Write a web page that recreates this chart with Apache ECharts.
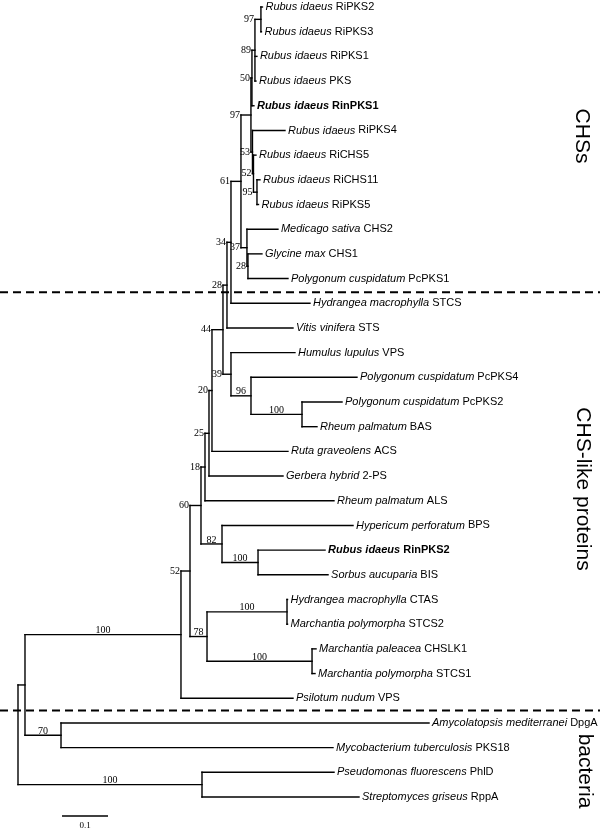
<!DOCTYPE html>
<html><head><meta charset="utf-8">
<script src="https://cdn.jsdelivr.net/npm/echarts@6/dist/echarts.min.js"></script>
<style>html,body{margin:0;padding:0;background:#fff}#c{width:600px;height:830px}</style>
</head><body><div id="c"></div>
<script>
// ---- Taxa (leaves, top to bottom) ----
const taxonSpecies = [
  'Rubus idaeus','Rubus idaeus','Rubus idaeus','Rubus idaeus','Rubus idaeus',
  'Rubus idaeus','Rubus idaeus','Rubus idaeus','Rubus idaeus',
  'Medicago sativa','Glycine max','Polygonum cuspidatum','Hydrangea macrophylla',
  'Vitis vinifera','Humulus lupulus','Polygonum cuspidatum','Polygonum cuspidatum',
  'Rheum palmatum','Ruta graveolens','Gerbera hybrid','Rheum palmatum',
  'Hypericum perforatum','Rubus idaeus','Sorbus aucuparia','Hydrangea macrophylla',
  'Marchantia polymorpha','Marchantia paleacea','Marchantia polymorpha','Psilotum nudum',
  'Amycolatopsis mediterranei','Mycobacterium tuberculosis','Pseudomonas fluorescens','Streptomyces griseus'
];
const taxonGene = [
  'RiPKS2','RiPKS3','RiPKS1','PKS','RinPKS1','RiPKS4','RiCHS5','RiCHS11','RiPKS5',
  'CHS2','CHS1','PcPKS1','STCS','STS','VPS','PcPKS4','PcPKS2','BAS','ACS','2-PS','ALS',
  'BPS','RinPKS2','BIS','CTAS','STCS2','CHSLK1','STCS1','VPS','DpgA','PKS18','PhlD','RppA'
];
const highlightedGenes = ['RinPKS1','RinPKS2'];
const leafParent = [
  'n97b','n97b','n89','n89','n50','n53','n52b','n95','n95',
  'n37','n28b','n28b','n34','n28','n39','n96','n100a','n100a','n20','n25','n18',
  'n82','n100b','n100b','n100c','n100c','n100d','n100d','n100big',
  'n70','n70','n100e','n100e'
];
const leafLength = [
  0.0033,0.0011,0.0043,0.0022,0.0043,0.0707,0.0054,0.0065,0.0033,
  0.0674,0.0304,0.0870,0.1717,0.1435,0.1391,0.2304,0.0870,0.0326,0.1652,0.1609,0.2804,
  0.2848,0.1457,0.1522,0.0011,0.0011,0.0087,0.0065,0.2435,
  0.8000,0.5913,0.2870,0.3413
];
// ---- Internal nodes ----
const nodeIds = ['root','ingroup','n100big','n52','n60','n18','n25','n20','n44','n28','n34','n61',
  'n97','n50','n89','n97b','n53','n52b','n95','n37','n28b','n39','n96','n100a','n82','n100b',
  'n78','n100c','n100d','n70','n100e'];
const nodeParent = [null,'root','ingroup','n100big','n52','n60','n18','n25','n20','n44','n28','n34',
  'n61','n97','n50','n89','n97','n53','n52b','n61','n37','n44','n39','n96','n60','n82',
  'n52','n78','n78','ingroup','root'];
const nodeLength = [0,0.0152,0.3391,0.0196,0.0239,0.0087,0.0087,0.0065,0.0239,0.0087,0.0087,0.0217,
  0.0217,0.0022,0.0065,0.0130,0.0033,0.0022,0.0076,0.0130,0.0022,0.0174,0.0435,0.1109,0.0457,0.0783,
  0.0370,0.1739,0.2283,0.0783,0.4000];
const nodeSupport = [null,null,100,52,60,18,25,20,44,28,34,61,
  97,50,89,97,53,52,95,37,28,39,96,100,82,100,
  78,100,100,70,100];
const dividerRows = [11.55, 28.5];
const groupNames = ['CHSs','CHS-like proteins','bacteria'];
const scaleBarLength = 0.1;
const scaleBarLabel = '0.1';

// ---- Layout ----
const byId = {};
const internal = nodeIds.map((id,i)=>({id, parent:nodeParent[i], len:nodeLength[i], support:nodeSupport[i], children:[]}));
internal.forEach(n=>byId[n.id]=n);
function xOf(n){ if(n.x!==undefined) return n.x; n.x = n.parent ? xOf(byId[n.parent]) + n.len : 0; return n.x; }
internal.forEach(xOf);
internal.forEach(n=>{ if(n.parent) byId[n.parent].children.push(n); });
const leaves = taxonSpecies.map((s,i)=>({i, parent:leafParent[i], x: byId[leafParent[i]].x + leafLength[i], y:i, leaf:true}));
leaves.forEach(l=>byId[l.parent].children.push(l));
function yOf(n){ if(n.y!==undefined) return n.y; const ys=n.children.map(yOf); n.ymin=Math.min(...ys); n.ymax=Math.max(...ys); n.y=(n.ymin+n.ymax)/2; return n.y; }
yOf(byId['root']);

const segs = [];
internal.forEach(n=>{
  segs.push([n.x, n.ymin, n.x, n.ymax]);
  if(n.parent) segs.push([byId[n.parent].x, n.y, n.x, n.y]);
});
leaves.forEach(l=>segs.push([byId[l.parent].x, l.y, l.x, l.y]));

const leafData = leaves.map(l=>[l.x, l.y, l.i]);
const supportData = internal.filter(n=>n.support!=null).map(n=>[n.x, n.y, byId[n.parent].x, n.support]);

const chart = echarts.init(document.getElementById('c'), null, {renderer:'canvas'});
const SANS = '"Liberation Sans", Arial, sans-serif';
const SERIF = '"Liberation Serif", "Times New Roman", serif';

chart.setOption({
  animation:false,
  backgroundColor:'#fff',
  grid:{left:18, top:7, width:552, height:790},
  xAxis:{type:'value', min:0, max:1.2, show:false},
  yAxis:{type:'value', min:0, max:32, inverse:true, show:false},
  graphic:[
    {type:'text', x:582, y:136, rotation:-Math.PI/2, style:{text:groupNames[0], font:'21px '+SANS, fill:'#000', align:'center', verticalAlign:'middle'}},
    {type:'text', x:583, y:489, rotation:-Math.PI/2, style:{text:groupNames[1], font:'21px '+SANS, fill:'#000', align:'center', verticalAlign:'middle'}},
    {type:'text', x:585, y:771, rotation:-Math.PI/2, style:{text:groupNames[2], font:'21px '+SANS, fill:'#000', align:'center', verticalAlign:'middle'}}
  ],
  series:[
    { type:'custom', coordinateSystem:'cartesian2d', clip:false, data:segs, encode:{x:[0,2], y:[1,3]},
      renderItem:(p,api)=>{
        const a=api.coord([api.value(0),api.value(1)]), b=api.coord([api.value(2),api.value(3)]);
        return {type:'line', shape:{x1:a[0],y1:a[1],x2:b[0],y2:b[1]}, style:{stroke:'#000', lineWidth:1.4, lineCap:'square'}};
      }},
    { type:'custom', coordinateSystem:'cartesian2d', clip:false, data:leafData, encode:{x:0,y:1},
      renderItem:(p,api)=>{
        const pt=api.coord([api.value(0),api.value(1)]);
        const i=api.value(2);
        const bold = highlightedGenes.includes(taxonGene[i]) ? 'bold' : 'normal';
        return {type:'text', x:pt[0]+3, y:pt[1], style:{
          text:'{s|'+taxonSpecies[i]+'} {g|'+taxonGene[i]+'}',
          fontFamily:SANS, fontSize:11, fontWeight:bold, fill:'#000',
          align:'left', verticalAlign:'middle',
          rich:{ s:{fontStyle:'italic', fontWeight:bold, fontFamily:SANS, fontSize:11, fill:'#000'},
                 g:{fontStyle:'normal', fontWeight:bold, fontFamily:SANS, fontSize:11, fill:'#000'} }
        }};
      }},
    { type:'custom', coordinateSystem:'cartesian2d', clip:false, data:supportData, encode:{x:0,y:1},
      renderItem:(p,api)=>{
        const n=api.coord([api.value(0),api.value(1)]), pp=api.coord([api.value(2),api.value(1)]);
        const len=n[0]-pp[0];
        const txt=String(api.value(3));
        if(len>15){
          return {type:'text', x:(n[0]+pp[0])/2, y:n[1]+1, style:{text:txt, font:'10px '+SERIF, fill:'#000', align:'center', verticalAlign:'bottom'}};
        }
        return {type:'text', x:pp[0]-1, y:n[1], style:{text:txt, font:'10px '+SERIF, fill:'#000', align:'right', verticalAlign:'middle'}};
      }},
    { type:'custom', coordinateSystem:'cartesian2d', clip:false, data:dividerRows.map(v=>[0,v]), encode:{y:1},
      renderItem:(p,api)=>{
        const y=api.coord([0,api.value(1)])[1];
        return {type:'line', shape:{x1:0,y1:y,x2:api.getWidth(),y2:y}, style:{stroke:'#000', lineWidth:2, lineDash:[8,5]}};
      }},
    { type:'custom', coordinateSystem:'cartesian2d', clip:false, data:[[0.0957, 32.77, scaleBarLength]], encode:{x:0,y:1},
      renderItem:(p,api)=>{
        const a=api.coord([api.value(0),api.value(1)]), b=api.coord([api.value(0)+api.value(2),api.value(1)]);
        return {type:'group', children:[
          {type:'line', shape:{x1:a[0],y1:a[1],x2:b[0],y2:b[1]}, style:{stroke:'#000', lineWidth:1.5}},
          {type:'text', x:(a[0]+b[0])/2, y:a[1]+10, style:{text:scaleBarLabel, font:'9px '+SERIF, fill:'#000', align:'center', verticalAlign:'middle'}}
        ]};
      }}
  ]
});
</script></body></html>
